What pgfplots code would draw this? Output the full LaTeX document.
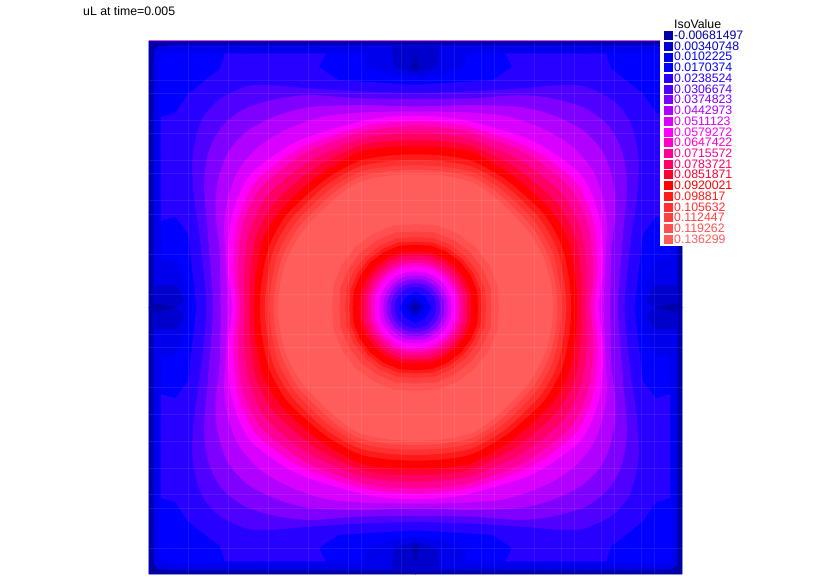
\documentclass[border=0pt]{standalone}
\usepackage{fontspec}
\setmainfont{Liberation Sans}
\usepackage{pgfplots}
\usepackage{pgfplotstable}
\pgfplotsset{compat=1.18}

% colours of the 20 iso levels
\definecolor{c0}{HTML}{0000A8}
\definecolor{c1}{HTML}{0000CC}
\definecolor{c2}{HTML}{0000EC}
\definecolor{c3}{HTML}{0000FF}
\definecolor{c4}{HTML}{2800FF}
\definecolor{c5}{HTML}{5000FF}
\definecolor{c6}{HTML}{8000FF}
\definecolor{c7}{HTML}{B000FF}
\definecolor{c8}{HTML}{D800FF}
\definecolor{c9}{HTML}{FF00FF}
\definecolor{c10}{HTML}{FF00C8}
\definecolor{c11}{HTML}{FF0096}
\definecolor{c12}{HTML}{FF0064}
\definecolor{c13}{HTML}{FF0032}
\definecolor{c14}{HTML}{FF0000}
\definecolor{c15}{HTML}{FF1A1A}
\definecolor{c16}{HTML}{FF3030}
\definecolor{c17}{HTML}{FF4040}
\definecolor{c18}{HTML}{FF5050}
\definecolor{c19}{HTML}{FF5C5C}

% iso contours, one quadrant each (a b, centre of the square at 0 0, edge at 800)
\newcommand{\contour}[2]{\pgfplotstableread[row sep=\\,header=false]{#2}#1}
\contour{\oA}{0 0\\ 0 701\\ 11 706\\ 66 721\\ 71 766\\ 71 783\\ 770 783\\ 783 770\\ 783 67\\ 716 67\\ 693 22\\ 716 0\\ 0 0\\}
\contour{\oB}{0 0\\ 0 686\\ 56 693\\ 151 721\\ 151 761\\ 755 765\\ 770 745\\ 761 147\\ 721 147\\ 686 72\\ 681 0\\ 0 0\\}
\contour{\oC}{0 0\\ 0 667\\ 231 681\\ 291 721\\ 271 761\\ 571 761\\ 586 716\\ 681 641\\ 721 583\\ 763 571\\ 763 261\\ 721 274\\ 681 221\\ 656 0\\ 0 0\\}
% the smooth ones run a little past both axes, where they go on mirrored
\contour{\oD}{-161 647\\ 0 642\\ 161 647\\ 311 656\\ 441 666\\ 511 661\\ 591 621\\ 641 561\\ 666 471\\ 668 391\\ 661 311\\ 646 211\\ 626 0\\ 646 -211\\}
\contour{\oE}{-161 626\\ 0 624\\ 161 626\\ 311 636\\ 411 626\\ 511 596\\ 581 541\\ 621 461\\ 633 361\\ 621 211\\ 606 0\\ 621 -211\\}
\contour{\oF}{-161 606\\ 0 602\\ 161 606\\ 311 601\\ 411 576\\ 501 531\\ 561 466\\ 591 381\\ 599 291\\ 586 161\\ 583 0\\ 586 -161\\}
\contour{\oG}{-161 584\\ 0 587\\ 161 584\\ 281 571\\ 391 531\\ 471 481\\ 531 411\\ 561 331\\ 573 251\\ 569 151\\ 563 0\\ 569 -151\\}
\contour{\oH}{-85 570\\ 0 574\\ 85 570\\ 170 556\\ 330 508\\ 425 455\\ 505 385\\ 552 265\\ 562 120\\ 549 0\\ 562 -120\\}
\contour{\oI}{-85 553\\ 0 557\\ 85 553\\ 170 539\\ 319 489\\ 409 436\\ 487 366\\ 534 253\\ 546 115\\ 536 0\\ 546 -115\\}
\contour{\oJ}{-85 538\\ 0 542\\ 85 538\\ 170 523\\ 308 473\\ 394 419\\ 471 349\\ 518 242\\ 532 111\\ 525 0\\ 532 -111\\}
\contour{\oK}{-85 518\\ 0 522\\ 85 518\\ 170 503\\ 295 451\\ 376 397\\ 450 327\\ 497 227\\ 513 106\\ 511 0\\ 513 -106\\}
\contour{\oL}{-85 498\\ 0 502\\ 85 498\\ 170 483\\ 282 430\\ 357 375\\ 429 305\\ 477 213\\ 495 100\\ 496 0\\ 495 -100\\}
\contour{\oM}{-85 480\\ 0 484\\ 85 480\\ 170 465\\ 270 410\\ 340 355\\ 410 285\\ 458 200\\ 478 95\\ 483 0\\ 478 -95\\}
\contour{\oN}{-85 454\\ 0 458\\ 85 454\\ 170 438\\ 262 388\\ 326 336\\ 390 272\\ 437 186\\ 459 88\\ 466 0\\ 459 -88\\}
\contour{\oO}{-85 437\\ 0 441\\ 85 437\\ 170 421\\ 255 375\\ 316 323\\ 377 259\\ 424 175\\ 444 82\\ 451 0\\ 444 -82\\}
\contour{\oP}{-85 421\\ 0 425\\ 85 421\\ 170 405\\ 245 362\\ 305 310\\ 364 247\\ 410 165\\ 430 78\\ 437 0\\ 430 -78\\}
\contour{\oQ}{-85 407\\ 0 411\\ 85 407\\ 170 390\\ 236 350\\ 295 297\\ 352 237\\ 397 155\\ 418 75\\ 424 0\\ 418 -75\\}
\contour{\oR}{-85 394\\ 0 398\\ 85 394\\ 170 375\\ 230 335\\ 285 285\\ 340 225\\ 385 145\\ 405 70\\ 411 0\\ 405 -70\\}
% core of the palest level, under the inner discs
\contour{\oS}{-30 -30\\ -30 392\\ 0 395\\ 170 370\\ 280 280\\ 380 140\\ 405 0\\ 403 -30\\ -30 -30\\}
% edge strip and spots of the lowest level
\contour{\sA}{0 792\\ 740 792\\ 790 740\\ 790 0\\ 800 0\\ 800 800\\ 0 800\\ 0 792\\}
\contour{\sB}{0 761\\ 11 716\\ 0 716\\ 0 761\\}
\contour{\sC}{786 12\\ 721 0\\ 786 0\\ 786 12\\}
% inner discs around the centre
\contour{\iR}{0 0\\ 249 0\\ 245 66\\ 220 127\\ 180 180\\ 127 220\\ 66 245\\ 0 249\\ 0 0\\}
\contour{\iQ}{0 0\\ 227 0\\ 224 60\\ 200 116\\ 164 164\\ 116 200\\ 60 224\\ 0 227\\ 0 0\\}
\contour{\iP}{0 0\\ 210 0\\ 207 55\\ 185 107\\ 151 151\\ 107 185\\ 55 207\\ 0 210\\ 0 0\\}
\contour{\iO}{0 0\\ 197 0\\ 194 52\\ 174 100\\ 142 142\\ 100 174\\ 52 194\\ 0 197\\ 0 0\\}
\contour{\iN}{0 0\\ 187 0\\ 184 49\\ 165 95\\ 135 135\\ 95 165\\ 49 184\\ 0 187\\ 0 0\\}
\contour{\iM}{0 0\\ 167 0\\ 164 44\\ 147 85\\ 120 120\\ 85 147\\ 44 164\\ 0 167\\ 0 0\\}
\contour{\iL}{0 0\\ 155 0\\ 153 41\\ 137 79\\ 112 112\\ 79 137\\ 41 153\\ 0 155\\ 0 0\\}
\contour{\iK}{0 0\\ 143 0\\ 141 38\\ 126 73\\ 103 103\\ 73 126\\ 38 141\\ 0 143\\ 0 0\\}
\contour{\iJ}{0 0\\ 132 0\\ 130 35\\ 117 67\\ 95 95\\ 67 117\\ 35 130\\ 0 132\\ 0 0\\}
\contour{\iI}{0 0\\ 122 0\\ 120 32\\ 108 62\\ 88 88\\ 62 108\\ 32 120\\ 0 122\\ 0 0\\}
\contour{\iH}{0 0\\ 107 0\\ 105 28\\ 94 55\\ 77 77\\ 55 94\\ 28 105\\ 0 107\\ 0 0\\}
\contour{\iG}{0 0\\ 95 0\\ 94 25\\ 84 48\\ 68 68\\ 48 84\\ 25 94\\ 0 95\\ 0 0\\}
\contour{\iF}{0 0\\ 84 0\\ 83 22\\ 74 43\\ 61 61\\ 43 74\\ 22 83\\ 0 84\\ 0 0\\}
\contour{\iE}{0 0\\ 72 0\\ 71 19\\ 64 37\\ 52 52\\ 37 64\\ 19 71\\ 0 72\\ 0 0\\}
\contour{\iD}{0 0\\ 60 0\\ 59 16\\ 53 31\\ 43 43\\ 31 53\\ 16 59\\ 0 60\\ 0 0\\}
\contour{\iC}{0 0\\ 47 0\\ 30 30\\ 0 47\\ 0 0\\}
\contour{\iB}{0 0\\ 34 0\\ 20 20\\ 0 34\\ 0 0\\}
\contour{\iA}{0 0\\ 22 0\\ 12 12\\ 0 22\\ 0 0\\}
\contour{\iZ}{0 0\\ 10 0\\ 5 5\\ 0 10\\ 0 0\\}

% one level, mirrored into the four quadrants; optional style for the curve
\newcommand{\level}[3][]{%
  \addplot[fill=#2,draw=#2,line width=.6pt,#1] table[x expr=\thisrowno{0},y expr=\thisrowno{1}] {#3};
  \addplot[fill=#2,draw=#2,line width=.6pt,#1] table[x expr=-\thisrowno{0},y expr=\thisrowno{1}] {#3};
  \addplot[fill=#2,draw=#2,line width=.6pt,#1] table[x expr=\thisrowno{0},y expr=-\thisrowno{1}] {#3};
  \addplot[fill=#2,draw=#2,line width=.6pt,#1] table[x expr=-\thisrowno{0},y expr=-\thisrowno{1}] {#3};
}
\newcommand{\slevel}[2]{\level[smooth,tension=.5]{#1}{#2}}
% one row of the iso value list
\newcommand{\isorow}[3]{%
  \addplot[only marks,mark=square*,mark size=4pt,color=#1] coordinates {(757.5,#2)};
  \node[anchor=west,inner sep=0pt,text=#1,font=\fontsize{12.3}{12.3}\selectfont] at (axis cs:775.5,#2) {#3};
}

\begin{document}
\begin{tikzpicture}
\useasboundingbox (0,0) rectangle (830pt,587pt);
\begin{axis}[
  at={(0,0)}, anchor=south west, scale only axis,
  width=830pt, height=587pt,
  xmin=-1246.5, xmax=1243.5, ymin=-838.5, ymax=922.5,
  axis lines=none, clip=false]
\addplot[fill=c1,draw=none] coordinates {(-800,-800) (800,-800) (800,800) (-800,800)};
\level{c0}{\sA}
\level{c2}{\oA}
\level{c3}{\oB}
\level{c4}{\oC}
\slevel{c5}{\oD}
\slevel{c6}{\oE}
\slevel{c7}{\oF}
\slevel{c8}{\oG}
\slevel{c9}{\oH}
\slevel{c10}{\oI}
\slevel{c11}{\oJ}
\slevel{c12}{\oK}
\slevel{c13}{\oL}
\slevel{c14}{\oM}
\slevel{c15}{\oN}
\slevel{c16}{\oO}
\slevel{c17}{\oP}
\slevel{c18}{\oQ}
\slevel{c19}{\oR}
\level{c19}{\oS}
\level{c18}{\iR}
\level{c17}{\iQ}
\level{c16}{\iP}
\level{c15}{\iO}
\level{c14}{\iN}
\level{c13}{\iM}
\level{c12}{\iL}
\level{c11}{\iK}
\level{c10}{\iJ}
\level{c9}{\iI}
\level{c8}{\iH}
\level{c7}{\iG}
\level{c6}{\iF}
\level{c5}{\iE}
\level{c4}{\iD}
\level{c3}{\iC}
\level{c2}{\iB}
\level{c1}{\iA}
\level{c0}{\iZ}
\level{c0}{\sB}
\level{c0}{\sC}
% faint seams of the shaded image
\pgfplotsinvokeforeach{-681,-561,-441,-321,-201,-161,-41,78,118,198,238,358,438,478,558,598,678,718}{
  \addplot[white,opacity=.08,line width=.7pt] coordinates {(#1,-800) (#1,800)};
}
\pgfplotsinvokeforeach{681,641,561,521,441,401,321,279,159,39,-81,-121,-241,-322,-402,-482,-562,-602,-722}{
  \addplot[white,opacity=.08,line width=.7pt] coordinates {(-800,#1) (800,#1)};
}
\addplot[draw=none,fill=white] coordinates {(733.5,184.5) (802,184.5) (802,802) (733.5,802)};
\addplot[draw={rgb,255:red,232;green,70;blue,232},line width=.9pt] coordinates {(-800,800) (733.5,800)};
\node[anchor=west,inner sep=0pt,font=\fontsize{12.3}{12.3}\selectfont] at (axis cs:-997.5,889.5) {uL at time=0.005};
\node[anchor=west,inner sep=0pt,font=\fontsize{12.3}{12.3}\selectfont] at (axis cs:775.5,850) {IsoValue};
\isorow{c0}{816.6}{-0.00681497}
\isorow{c1}{784.4}{0.00340748}
\isorow{c2}{752.3}{0.0102225}
\isorow{c3}{720.1}{0.0170374}
\isorow{c4}{688}{0.0238524}
\isorow{c5}{655.8}{0.0306674}
\isorow{c6}{623.6}{0.0374823}
\isorow{c7}{591.5}{0.0442973}
\isorow{c8}{559.3}{0.0511123}
\isorow{c9}{527.2}{0.0579272}
\isorow{c10}{495}{0.0647422}
\isorow{c11}{462.9}{0.0715572}
\isorow{c12}{430.7}{0.0783721}
\isorow{c13}{398.5}{0.0851871}
\isorow{c14}{366.4}{0.0920021}
\isorow{c15}{334.2}{0.098817}
\isorow{c16}{302}{0.105632}
\isorow{c17}{269.9}{0.112447}
\isorow{c18}{237.7}{0.119262}
\isorow{c19}{205.6}{0.136299}
\end{axis}
\end{tikzpicture}
\end{document}
